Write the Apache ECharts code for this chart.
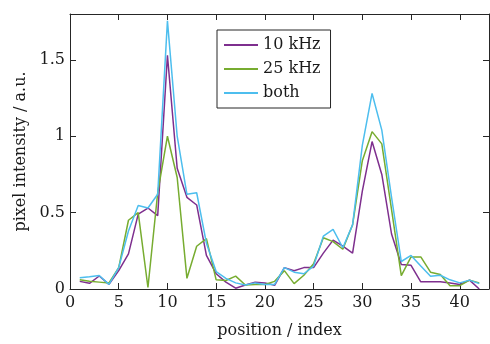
<!DOCTYPE html>
<html>
<head>
<meta charset="utf-8">
<script src="https://cdn.jsdelivr.net/npm/echarts@6/dist/echarts.min.js"></script>
<style>
  html, body { margin: 0; padding: 0; background: #fff; }
  #chart { width: 490px; height: 344px; }
</style>
</head>
<body>
<div id="chart"></div>
<script>
// positions 1..42
const positions = [1,2,3,4,5,6,7,8,9,10,11,12,13,14,15,16,17,18,19,20,21,22,23,24,25,26,27,28,29,30,31,32,33,34,35,36,37,38,39,40,41,42];

const khz10 = [0.05,0.037,0.085,0.03,0.12,0.23,0.49,0.53,0.48,1.53,0.79,0.6,0.55,0.22,0.1,0.045,0.005,0.026,0.045,0.04,0.024,0.14,0.12,0.14,0.14,0.235,0.32,0.28,0.235,0.64,0.965,0.75,0.36,0.16,0.155,0.047,0.047,0.047,0.04,0.03,0.058,0.0];
const khz25 = [0.06,0.05,0.045,0.04,0.14,0.45,0.5,0.01,0.63,1.0,0.73,0.07,0.28,0.33,0.06,0.056,0.084,0.026,0.03,0.03,0.05,0.12,0.035,0.09,0.165,0.335,0.31,0.26,0.42,0.84,1.03,0.95,0.52,0.088,0.21,0.21,0.11,0.095,0.022,0.022,0.058,0.04];
const both = [0.073,0.08,0.088,0.03,0.14,0.38,0.546,0.53,0.62,1.755,1.0,0.62,0.63,0.3,0.114,0.07,0.04,0.026,0.04,0.03,0.03,0.14,0.11,0.1,0.15,0.346,0.39,0.27,0.42,0.94,1.28,1.04,0.6,0.18,0.22,0.15,0.084,0.09,0.06,0.04,0.058,0.035];

const axisColor = '#262626';
const textColor = '#1a1a1a';
const font = 'DejaVu Serif';
const fontSize = 16;

function pairs(vals) {
  return positions.map((p, i) => [p, vals[i]]);
}

const chart = echarts.init(document.getElementById('chart'));

const tickInside = { show: true, inside: true, length: 6, lineStyle: { color: axisColor, width: 1 } };
const axisLine = { show: true, onZero: false, lineStyle: { color: axisColor, width: 1 } };

chart.setOption({
  animation: false,
  textStyle: { fontFamily: font },
  grid: { left: 70, right: 1, top: 14, bottom: 51 },
  legend: {
    orient: 'vertical',
    left: 217,
    top: 30,
    padding: [7, 10, 7, 7],
    itemGap: 8,
    itemWidth: 34,
    itemHeight: 2,
    icon: 'rect',
    borderColor: axisColor,
    borderWidth: 1,
    backgroundColor: '#fff',
    textStyle: { fontFamily: font, fontSize: fontSize, color: textColor },
    data: ['10 kHz', '25 kHz', 'both']
  },
  xAxis: [{
    type: 'value', min: 0, max: 43, interval: 5,
    name: 'position / index', nameLocation: 'middle', nameGap: 34,
    nameTextStyle: { fontFamily: font, fontSize: fontSize, color: textColor },
    axisLine, axisTick: tickInside, splitLine: { show: false },
    axisLabel: { fontFamily: font, fontSize: fontSize, color: textColor, margin: 6, showMaxLabel: false }
  }, {
    type: 'value', min: 0, max: 43, interval: 5, position: 'top',
    axisLine, axisTick: tickInside, splitLine: { show: false }, axisLabel: { show: false }
  }],
  yAxis: [{
    type: 'value', min: 0, max: 1.8, interval: 0.5,
    name: 'pixel intensity / a.u.', nameLocation: 'middle', nameGap: 40,
    nameTextStyle: { fontFamily: font, fontSize: fontSize, color: textColor },
    axisLine, axisTick: tickInside, splitLine: { show: false },
    axisLabel: { fontFamily: font, fontSize: fontSize, color: textColor, margin: 5, showMaxLabel: false }
  }, {
    type: 'value', min: 0, max: 1.8, interval: 0.5, position: 'right',
    axisLine, axisTick: tickInside, splitLine: { show: false }, axisLabel: { show: false }
  }],
  series: [
    { name: '10 kHz', type: 'line', data: pairs(khz10), symbol: 'none', color: '#7e2f8e', lineStyle: { width: 1.5 } },
    { name: '25 kHz', type: 'line', data: pairs(khz25), symbol: 'none', color: '#77ac30', lineStyle: { width: 1.5 } },
    { name: 'both', type: 'line', data: pairs(both), symbol: 'none', color: '#4dbeee', lineStyle: { width: 1.5 } }
  ]
});
</script>
</body>
</html>
